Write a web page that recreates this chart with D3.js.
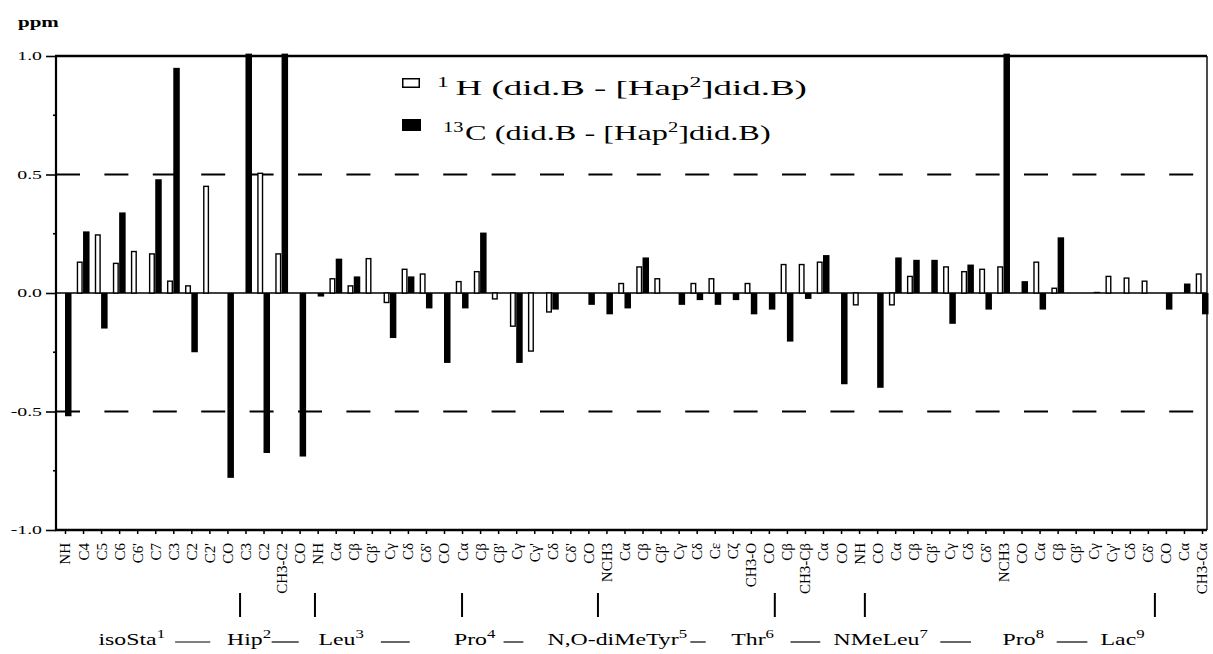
<!DOCTYPE html>
<html><head><meta charset="utf-8">
<script src="https://cdn.jsdelivr.net/npm/d3@7"></script>
<style>
body{margin:0;background:#fff}
svg{display:block}
text{font-family:"Liberation Serif","Times New Roman",serif;fill:#000}
</style>
</head><body>
<svg id="chart" width="1213" height="654"></svg>
<script>
// ---------------- data ----------------
const categories = ["NH","C4","C5","C6","C6'","C7","C3","C2","C2'",
  "CO","C3","C2","CH3-C2","CO",
  "NH","Cα","Cβ","Cβ'","Cγ","Cδ","Cδ'",
  "CO","Cα","Cβ","Cβ'","Cγ","Cγ'","Cδ","Cδ'",
  "CO","NCH3","Cα","Cβ","Cβ'","Cγ","Cδ","Cε","Cζ","CH3-O",
  "CO","Cβ","CH3-Cβ","Cα",
  "CO","NH","CO","Cα","Cβ","Cβ'","Cγ","Cδ","Cδ'","NCH3",
  "CO","Cα","Cβ","Cβ'","Cγ","Cγ'","Cδ","Cδ'",
  "CO","Cα","CH3-Cα"];
// 1H (did.B - [Hap2]did.B), ppm
const h1Values = [null,0.13,0.245,0.125,0.175,0.165,0.05,0.03,0.45,
  null,null,0.505,0.165,null,
  null,0.06,0.03,0.145,-0.04,0.10,0.08,
  null,0.048,0.09,-0.025,-0.14,-0.245,-0.08,null,
  null,null,0.04,0.11,0.06,null,0.04,0.06,null,0.04,
  null,0.12,0.12,0.13,
  null,-0.05,null,-0.05,0.07,null,0.11,0.09,0.10,0.11,
  null,0.13,0.02,null,null,0.07,0.063,0.05,
  null,null,0.08];
// 13C (did.B - [Hap2]did.B), ppm
const c13Values = [-0.52,0.26,-0.15,0.34,null,0.48,0.95,-0.25,null,
  -0.78,1.01,-0.675,1.01,-0.69,
  -0.015,0.145,0.07,null,-0.19,0.07,-0.065,
  -0.295,-0.065,0.255,null,-0.295,null,-0.07,null,
  -0.05,-0.09,-0.065,0.15,null,-0.05,-0.03,-0.05,-0.03,-0.09,
  -0.07,-0.205,-0.025,0.16,
  -0.385,null,-0.40,0.15,0.14,0.14,-0.13,0.12,-0.07,1.01,
  0.05,-0.07,0.235,null,0.005,null,null,null,
  -0.07,0.04,-0.09];
const yTickValues = [-1,-0.5,0,0.5,1];
const yTickLabels = ["-1.0","-0.5","0.0","0.5","1.0"];
const yMinorTicks = [-0.75,-0.25,0.25,0.75];
const refLines = [0.5,-0.5];
const residues = ["isoSta","Hip","Leu","Pro","N,O-diMeTyr","Thr","NMeLeu","Pro","Lac"];
const residueNumbers = ["1","2","3","4","5","6","7","8","9"];
const legendLabels = [
  {sup:"1", main:"H (did.B - [Hap", sup2:"2", tail:"]did.B)"},
  {sup:"13", main:"C (did.B - [Hap", sup2:"2", tail:"]did.B)"}
];

// ---------------- layout (category units) ----------------
const residueCenters = [3.7,10.2,15.3,22.7,30.6,38.1,45.2,53.1,58.6];
const connectorSpans = [[6.1,8.05],[11.45,12.95],[17.5,19.1],[24.3,25.4],[34.65,35.5],[40.2,41.85],[48.5,50.2],[54.95,56.65]];
const boundaryMarks = [9.7,13.85,22.0,29.53,39.33,44.32,60.39];

// ---------------- chart ----------------
const svg = d3.select("#chart");
const plotLeft = 56, plotRight = 1207;
const x = d3.scaleLinear().domain([0, categories.length - 1]).range([65, 1202]);
const y = d3.scaleLinear().domain([-1, 1]).range([530, 56]);

// dashed reference lines
svg.append("g").selectAll("line").data(refLines).join("line")
  .attr("x1", plotLeft).attr("x2", 1200)
  .attr("y1", d => y(d)).attr("y2", d => y(d))
  .attr("stroke", "#000").attr("stroke-width", 2)
  .attr("stroke-dasharray", "24,24.4");

// zero line
svg.append("line").attr("x1", plotLeft).attr("x2", plotRight)
  .attr("y1", y(0)).attr("y2", y(0)).attr("stroke", "#000").attr("stroke-width", 1.6);

// bars
const hData = h1Values.map((v, i) => ({i, v})).filter(d => d.v !== null);
const cData = c13Values.map((v, i) => ({i, v})).filter(d => d.v !== null);

svg.append("g").selectAll("rect").data(cData).join("rect")
  .attr("x", d => x(d.i))
  .attr("width", 6.5)
  .attr("y", d => Math.min(y(d.v), y(0)))
  .attr("height", d => Math.max(1.2, Math.abs(y(d.v) - y(0))))
  .attr("fill", "#000");

svg.append("g").selectAll("rect").data(hData).join("rect")
  .attr("x", d => x(d.i) - 5.6)
  .attr("width", 4.6)
  .attr("y", d => Math.min(y(d.v), y(0)))
  .attr("height", d => Math.max(0.5, Math.abs(y(d.v) - y(0))))
  .attr("fill", "#fff").attr("stroke", "#000").attr("stroke-width", 1.4);

// y axis
const gy = svg.append("g").attr("transform", `translate(${plotLeft},0)`)
  .call(d3.axisLeft(y).tickValues(yTickValues).tickSize(10).tickPadding(0)
        .tickFormat((d, i) => yTickLabels[i]));
gy.select(".domain").remove();
gy.selectAll(".tick line").attr("stroke-width", 1.6);
gy.selectAll("text").attr("x", null).attr("dy", "0.32em")
  .attr("font-family", "Liberation Serif, serif").attr("font-size", 12)
  .attr("text-anchor", "end")
  .attr("transform", "translate(-14,0) scale(1.65,1)");
svg.append("g").selectAll("line").data(yMinorTicks).join("line")
  .attr("x1", plotLeft - 3).attr("x2", plotLeft)
  .attr("y1", d => y(d)).attr("y2", d => y(d))
  .attr("stroke", "#000").attr("stroke-width", 1.6);

// x axis
const gx = svg.append("g").attr("transform", `translate(0,${y(-1)})`)
  .call(d3.axisBottom(x).tickValues(d3.range(categories.length)).tickSize(4)
        .tickFormat(i => categories[i]));
gx.select(".domain").remove();
gx.selectAll(".tick line").attr("stroke-width", 1.5);
gx.selectAll("text")
  .attr("font-family", "Liberation Serif, serif").attr("font-size", 15)
  .attr("transform", "rotate(-90)")
  .attr("x", -13).attr("y", 0).attr("dy", "0.33em")
  .attr("text-anchor", "end");

// frame
const frame = svg.append("g").attr("stroke", "#000").attr("fill", "none");
frame.append("line").attr("x1", plotLeft - 1).attr("x2", plotRight).attr("y1", y(1)).attr("y2", y(1)).attr("stroke-width", 2.6);
frame.append("line").attr("x1", plotLeft - 1).attr("x2", plotRight).attr("y1", y(-1)).attr("y2", y(-1)).attr("stroke-width", 2.6);
frame.append("line").attr("x1", plotLeft).attr("x2", plotLeft).attr("y1", y(1)).attr("y2", y(-1)).attr("stroke-width", 2.2);
frame.append("line").attr("x1", plotRight).attr("x2", plotRight).attr("y1", y(1)).attr("y2", y(-1)).attr("stroke-width", 1.4);

// ppm label
svg.append("g").attr("transform", "translate(18,27) scale(1.5,1)")
  .append("text").attr("font-size", 14).attr("font-weight", "bold").text("ppm");

// legend
const legY = [95, 140];
const legX = [437, 443];
const legScale = [1.68, 1.47];
const legend = svg.append("g");
legend.append("rect").attr("x", 402.75).attr("y", 78.75).attr("width", 16.5).attr("height", 8.5)
  .attr("fill", "#fff").attr("stroke", "#000").attr("stroke-width", 1.5);
legend.append("rect").attr("x", 402).attr("y", 119).attr("width", 19).attr("height", 12)
  .attr("fill", "#000");
legendLabels.forEach((l, k) => {
  const t = legend.append("g").attr("transform", `translate(${legX[k]},${legY[k]}) scale(${legScale[k]},1)`)
    .append("text").attr("font-size", 22);
  t.append("tspan").attr("font-size", 14).attr("dy", -8).text(l.sup);
  t.append("tspan").attr("dy", 8).attr("dx", k === 0 ? 4 : 1).text(l.main);
  t.append("tspan").attr("font-size", 14).attr("dy", -8).text(l.sup2);
  t.append("tspan").attr("dy", 8).text(l.tail);
});

// residue boundary marks
svg.append("g").selectAll("line").data(boundaryMarks).join("line")
  .attr("x1", d => x(d)).attr("x2", d => x(d)).attr("y1", 593).attr("y2", 617)
  .attr("stroke", "#000").attr("stroke-width", 2);

// residue labels
const resG = svg.append("g");
residues.forEach((r, k) => {
  const t = resG.append("g").attr("transform", `translate(${x(residueCenters[k])},645) scale(1.4,1)`)
    .append("text").attr("font-size", 17).attr("text-anchor", "middle");
  t.append("tspan").text(r);
  t.append("tspan").attr("font-size", 12).attr("dy", -7).text(residueNumbers[k]);
});
resG.selectAll("line").data(connectorSpans).join("line")
  .attr("x1", d => x(d[0])).attr("x2", d => x(d[1]))
  .attr("y1", 642).attr("y2", 642).attr("stroke", "#000").attr("stroke-width", 1.2);
</script>
</body></html>
